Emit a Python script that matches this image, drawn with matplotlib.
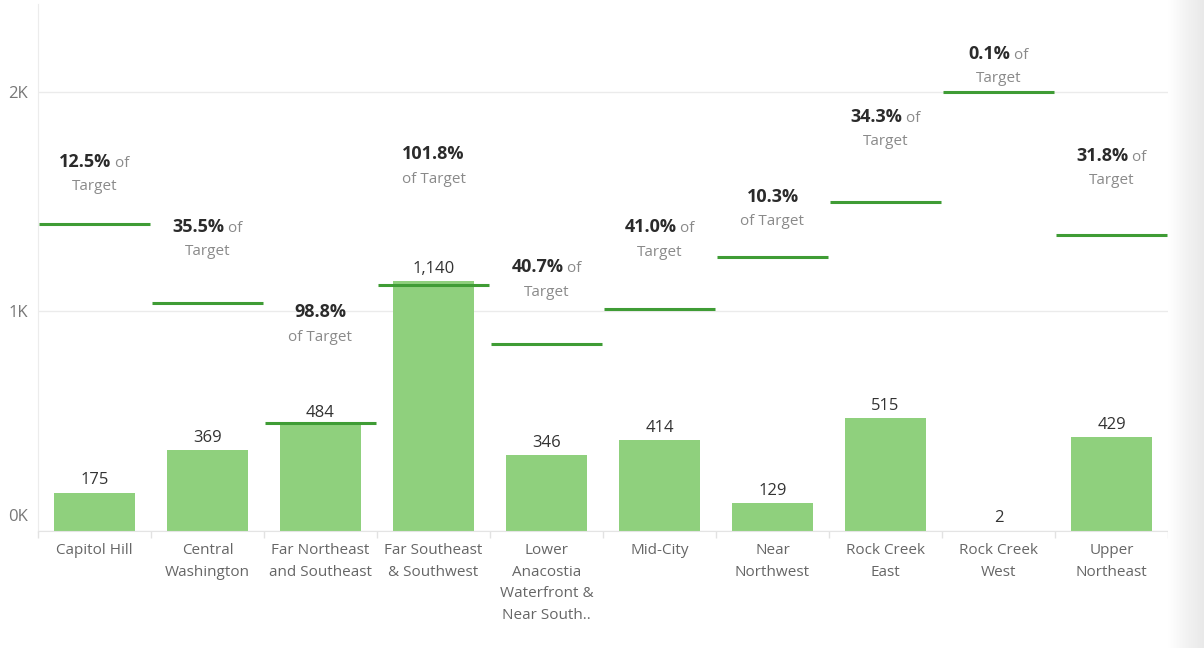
import matplotlib
matplotlib.use("Agg")
import matplotlib.pyplot as plt
import numpy as np
from matplotlib.colors import LinearSegmentedColormap

# data
wards = ["Capitol Hill", "Central\nWashington", "Far Northeast\nand Southeast",
         "Far Southeast\n& Southwest", "Lower\nAnacostia\nWaterfront &\nNear South..",
         "Mid-City", "Near\nNorthwest", "Rock Creek\nEast", "Rock Creek\nWest",
         "Upper\nNortheast"]
actual = [175, 369, 484, 1140, 346, 414, 129, 515, 2, 429]
target = [1400, 1040, 490, 1120, 850, 1010, 1250, 1500, 2000, 1350]
pct_text = ["12.5%", "35.5%", "98.8%", "101.8%", "40.7%", "41.0%", "10.3%", "34.3%", "0.1%", "31.8%"]
# True when " of" stays on the first line next to the percentage
of_inline = [True, True, False, False, True, True, False, True, True, True]
# how far (px) the "Target" line sits above the target bar
note_gap = [37, 51, 86, 106, 52, 57, 35, 60, 13, 54]

bar_color = "#8fd07d"
target_color = "#3f9c35"
grid_color = "#ebebeb"

plt.rcParams['font.family'] = ['Open Sans', 'DejaVu Sans']

fig = plt.figure(figsize=(12.04, 6.48), dpi=100)
ax = fig.add_axes([38 / 1204, (648 - 531) / 648, 1130 / 1204, 527 / 648])

x = np.arange(len(wards))
ax.bar(x, actual, width=0.72, color=bar_color, zorder=2)
ax.hlines(target, x - 0.49, x + 0.49, color=target_color, lw=2.2, zorder=3)

# value labels above bars
for xi, v in zip(x, actual):
    ax.annotate(f"{v:,}", xy=(xi, v), xytext=(0, 3), textcoords="offset points",
                ha="center", va="bottom", fontsize=12, color="#333333", zorder=4)

# percent-of-target notes
renderer = fig.canvas.get_renderer()
px = 72 / fig.dpi
for xi, t, p, inline, gap in zip(x, target, pct_text, of_inline, note_gap):
    y2 = gap * px
    y1 = (gap + 26) * px
    tail = " of" if inline else ""
    tmp_b = ax.text(0, 0, p, fontsize=13, weight="bold")
    tmp_t = ax.text(0, 0, tail, fontsize=11)
    wb = tmp_b.get_window_extent(renderer).width
    wt = tmp_t.get_window_extent(renderer).width if tail else 0
    tmp_b.remove()
    tmp_t.remove()
    ax.annotate(p, xy=(xi, t), xytext=(-wt / 2 * px, y1 - 6 * px), textcoords="offset points",
                ha="center", va="baseline", fontsize=13, weight="bold", color="#2b2b2b")
    if tail:
        ax.annotate(tail, xy=(xi, t), xytext=((wb - wt) / 2 * px, y1 - 6 * px),
                    textcoords="offset points", ha="left", va="baseline",
                    fontsize=11, color="#8a8a8a")
    ax.annotate("Target" if inline else "of Target", xy=(xi, t), xytext=(0, y2),
                textcoords="offset points", ha="center", va="center",
                fontsize=11, color="#8a8a8a")

ax.set_xlim(-0.5, len(wards) - 0.5)
ax.set_ylim(0, 2400)

ax.set_xticks(x)
ax.set_xticklabels(wards, fontsize=11, color="#666666", linespacing=1.62, va="top")
ax.set_xticks(np.arange(-0.5, len(wards), 1), minor=True)
ax.tick_params(axis="x", which="major", length=0, pad=8.5)
ax.tick_params(axis="x", which="minor", length=5, color="#e2e2e2", width=1)

ax.set_yticks([0, 1000, 2000])
ax.set_yticklabels(["", "1K", "2K"], fontsize=12, color="#777777")
ax.tick_params(axis="y", length=0, pad=7)
ax.annotate("0K", xy=(0, 0), xycoords=("axes fraction", "data"), xytext=(-7, 14 * px),
            textcoords="offset points", ha="right", va="center", fontsize=12, color="#777777")
ax.yaxis.grid(True, color=grid_color, lw=1, zorder=0)

for side in ["top", "right"]:
    ax.spines[side].set_visible(False)
ax.spines["left"].set_color("#ececec")
ax.spines["bottom"].set_color("#e4e4e4")

# light scrollbar shading on the right edge
shade = fig.add_axes([1168 / 1204, 0, 36 / 1204, 1])
cmap = LinearSegmentedColormap.from_list("shade", ["#ffffff", "#f3f3f3", "#e9e9e9"])
shade.imshow(np.linspace(0, 1, 50).reshape(1, -1), aspect="auto", cmap=cmap)
shade.axis("off")

fig.savefig("out.png", dpi=100)
